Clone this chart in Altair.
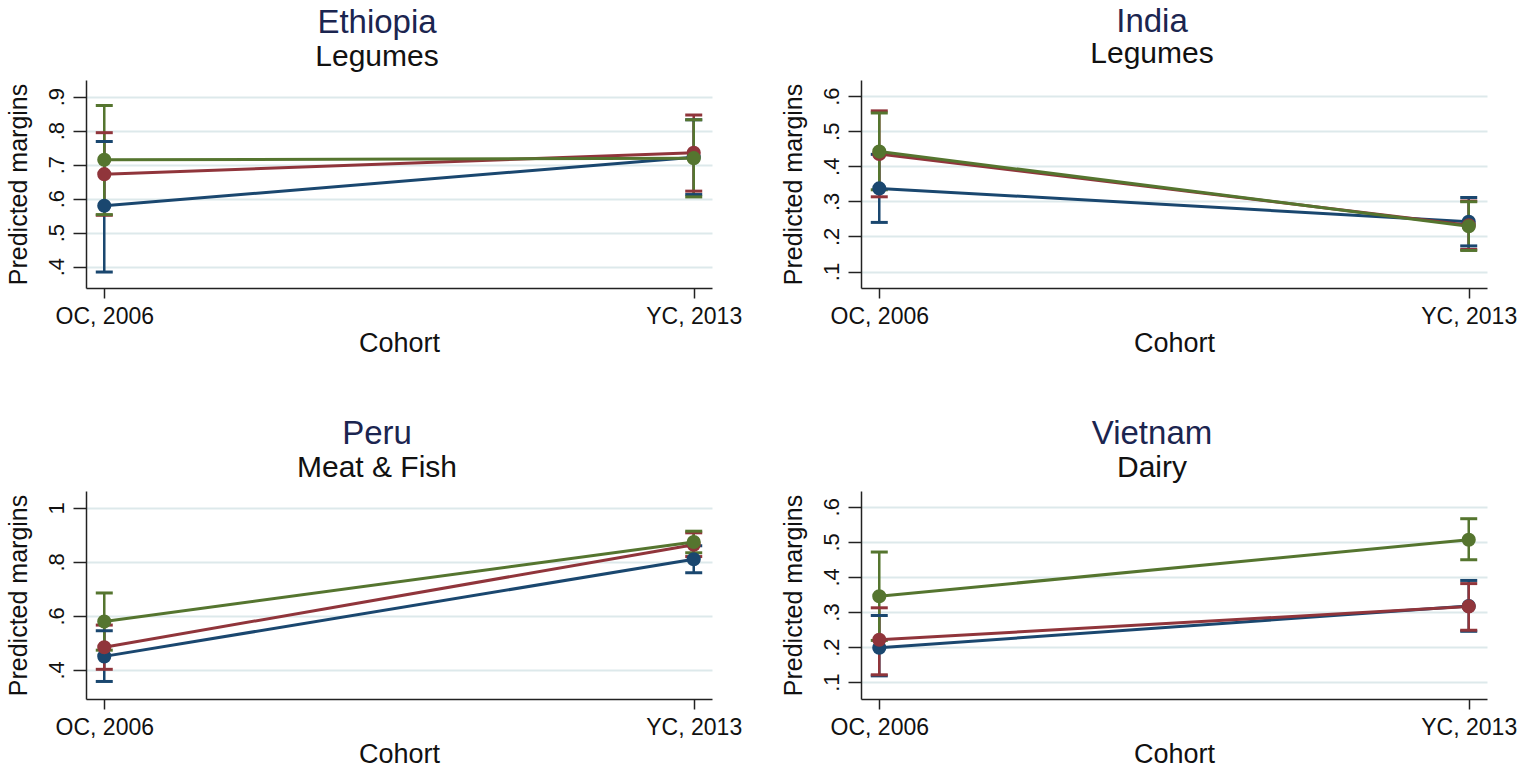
import altair as alt
import pandas as pd

FONT = "Liberation Sans"

cohorts = ["OC, 2006", "YC, 2013"]
series_ids = ["1", "2", "3"]
series_colors = ["#1a476f", "#90353b", "#55752f"]

# Predicted margins with 95% CI bounds, one row per series: [OC, 2006, YC, 2013]
eth_margin = [[0.579, 0.722], [0.672, 0.735], [0.714, 0.719]]
eth_lower = [[0.384, 0.612], [0.551, 0.622], [0.553, 0.605]]
eth_upper = [[0.768, 0.832], [0.794, 0.846], [0.874, 0.832]]

ind_margin = [[0.337, 0.242], [0.435, 0.232], [0.442, 0.229]]
ind_lower = [[0.240, 0.173], [0.313, 0.163], [0.333, 0.160]]
ind_upper = [[0.434, 0.311], [0.558, 0.301], [0.552, 0.299]]

peru_margin = [[0.450, 0.810], [0.484, 0.864], [0.579, 0.874]]
peru_lower = [[0.357, 0.760], [0.402, 0.820], [0.473, 0.834]]
peru_upper = [[0.545, 0.860], [0.566, 0.908], [0.685, 0.914]]

vn_margin = [[0.198, 0.317], [0.221, 0.316], [0.345, 0.506]]
vn_lower = [[0.118, 0.245], [0.121, 0.248], [0.219, 0.449]]
vn_upper = [[0.290, 0.390], [0.312, 0.381], [0.471, 0.566]]

eth_ticks = [0.4, 0.5, 0.6, 0.7, 0.8, 0.9]
ind_ticks = [0.1, 0.2, 0.3, 0.4, 0.5, 0.6]
peru_ticks = [0.4, 0.6, 0.8, 1.0]
vn_ticks = [0.1, 0.2, 0.3, 0.4, 0.5, 0.6]

PANEL_W = 626
PANEL_H = 208


def panel(country, food, margin, lower, upper, domain, ticks, title_offset, sub_pad):
    rows = []
    for s, sid in enumerate(series_ids):
        for c, coh in enumerate(cohorts):
            rows.append({
                "series": sid,
                "cohort": coh,
                "margin": margin[s][c],
                "lower": lower[s][c],
                "upper": upper[s][c],
            })
    df = pd.DataFrame(rows)
    base = alt.Chart(df)

    x = alt.X(
        "cohort:N",
        sort=cohorts,
        scale=alt.Scale(type="point", padding=0.031),
        axis=alt.Axis(
            title="Cohort", labelAngle=0, grid=False,
            tickSize=10, tickWidth=1.5, tickColor="#222222",
            domainColor="#222222", domainWidth=1.5,
            labelPadding=7, labelFontSize=23, labelBaseline="top",
            titleFontSize=27, titlePadding=2,
        ),
    )
    yscale = alt.Scale(domain=domain, nice=False, zero=False)
    yaxis = alt.Axis(
        title="Predicted margins", values=ticks,
        labelExpr="datum.value >= 1 ? format(datum.value, 'd') : substring(format(datum.value, '.1f'), 1)",
        labelAngle=270, labelAlign="center", labelBaseline="bottom",
        labelFontSize=22, labelPadding=5,
        tickSize=13, tickWidth=1.5, tickColor="#222222",
        domainColor="#222222", domainWidth=1.5,
        grid=True, gridColor="#dde9eb", gridWidth=2,
        titleFontSize=25, titlePadding=14,
    )
    color = alt.Color(
        "series:N",
        scale=alt.Scale(domain=series_ids, range=series_colors),
        legend=None,
    )

    bars = base.mark_rule(strokeWidth=2.5).encode(
        x=x,
        y=alt.Y("lower:Q", scale=yscale, axis=yaxis),
        y2="upper:Q",
        color=color,
    )
    caps = base.transform_fold(["lower", "upper"], as_=["bound", "value"]).mark_tick(
        orient="horizontal", size=17, thickness=3, opacity=1
    ).encode(
        x=x,
        y=alt.Y("value:Q", scale=yscale, axis=yaxis),
        color=color,
    )
    lines = base.mark_line(strokeWidth=3).encode(
        x=x,
        y=alt.Y("margin:Q", scale=yscale, axis=yaxis),
        color=color,
    )
    points = base.mark_circle(size=200, opacity=1).encode(
        x=x,
        y=alt.Y("margin:Q", scale=yscale, axis=yaxis),
        color=color,
    )
    return alt.layer(bars, caps, lines, points).properties(
        width=PANEL_W,
        height=PANEL_H,
        title=alt.Title(
            country, subtitle=food,
            font=FONT, subtitleFont=FONT,
            fontSize=33, subtitleFontSize=30,
            fontWeight="normal", color="#1b2550", subtitleColor="#111111",
            anchor="middle", dx=-22, offset=title_offset, subtitlePadding=sub_pad,
        ),
    )


eth = panel("Ethiopia", "Legumes", eth_margin, eth_lower, eth_upper, [0.337, 0.949], eth_ticks, 8, 2)
ind = panel("India", "Legumes", ind_margin, ind_lower, ind_upper, [0.053, 0.646], ind_ticks, 11, 0)
peru = panel("Peru", "Meat & Fish", peru_margin, peru_lower, peru_upper, [0.292, 1.063], peru_ticks, 8, 2)
vn = panel("Vietnam", "Dairy", vn_margin, vn_lower, vn_upper, [0.052, 0.645], vn_ticks, 8, 2)

chart = alt.concat(
    eth, ind, peru, vn,
    columns=2,
    spacing={"row": 203, "column": 149},
    bounds="flush",
).properties(
    background="white",
    padding={"left": 5, "top": 6, "right": 5, "bottom": 2},
).configure_view(
    strokeOpacity=0,
).configure_axis(
    labelFont=FONT, titleFont=FONT,
    labelColor="#111111", titleColor="#111111",
    titleFontWeight="normal",
)

chart.save("out.html", embed_options={"renderer": "svg", "actions": False})
